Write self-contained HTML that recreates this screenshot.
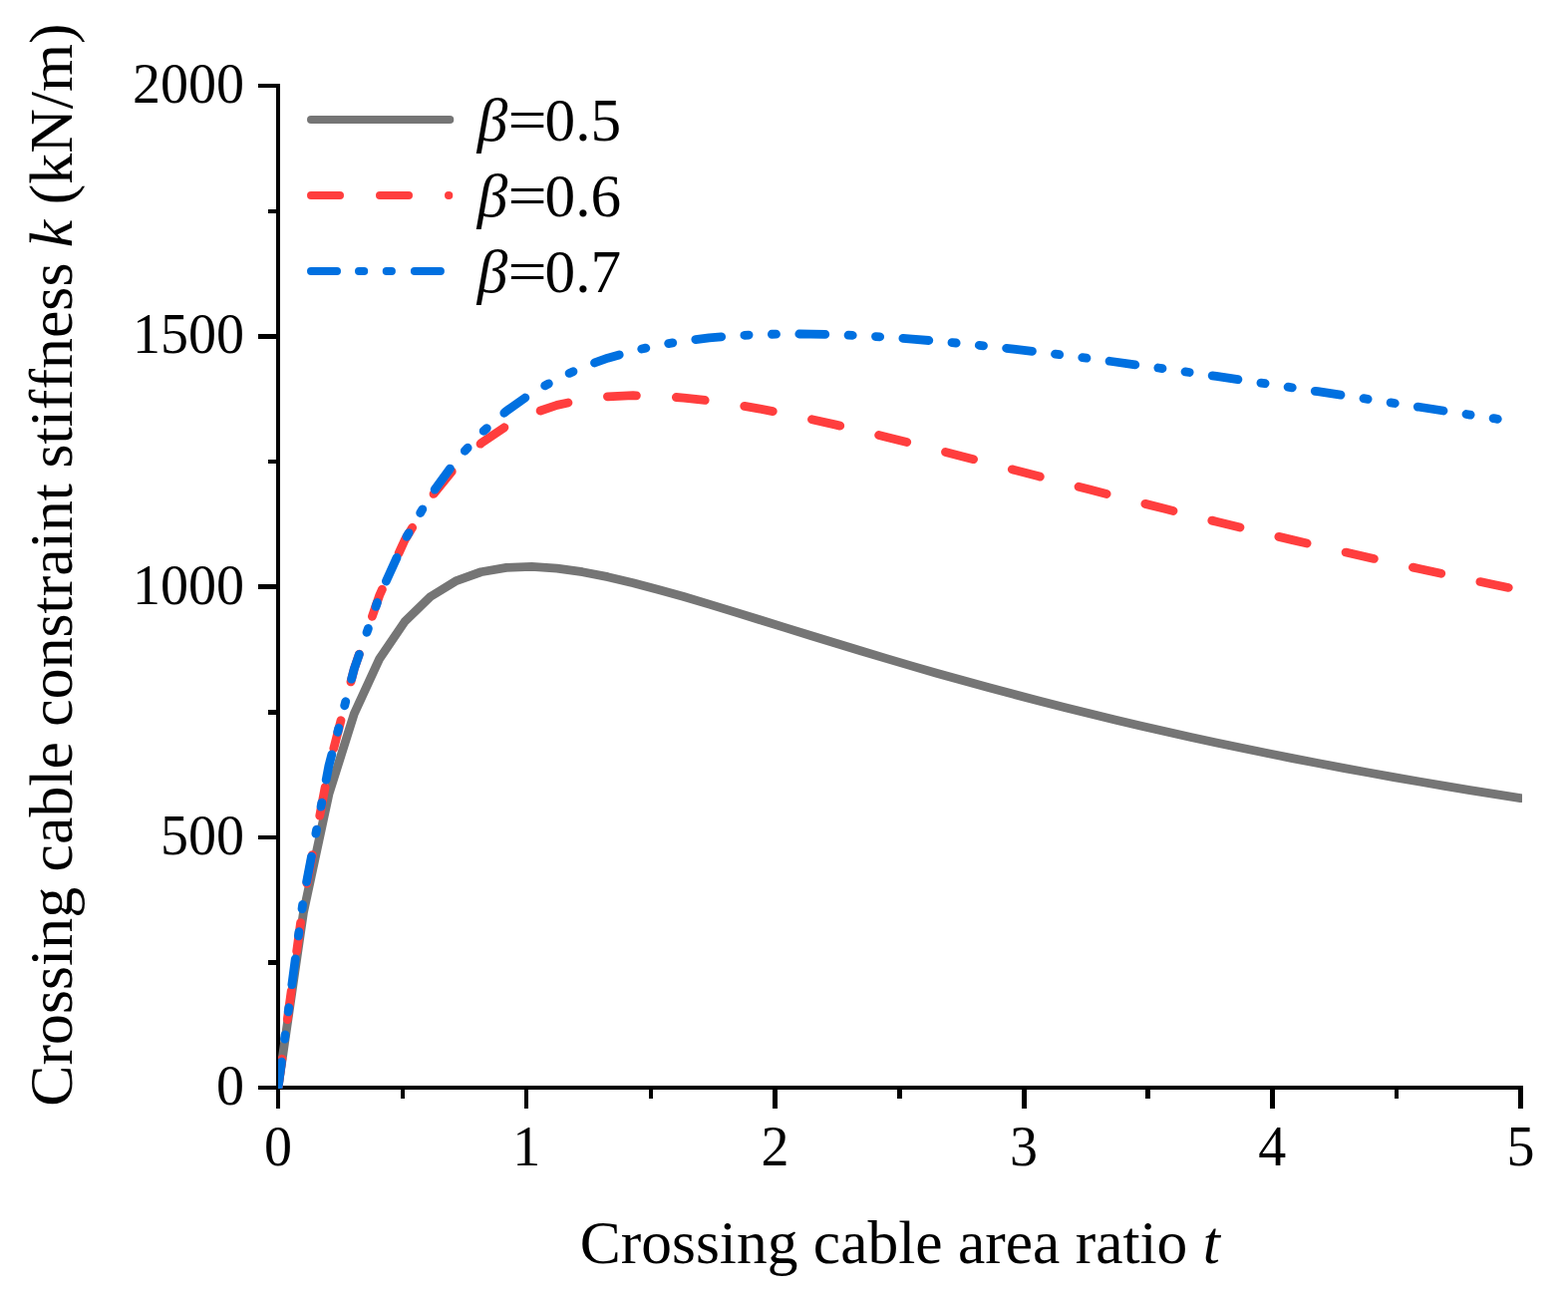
<!DOCTYPE html>
<html lang="en">
<head>
<meta charset="utf-8">
<title>Crossing cable constraint stiffness</title>
<style>
html,body{margin:0;padding:0;background:#fff;}
body{width:1573px;height:1301px;overflow:hidden;}
svg{display:block;}
text{font-family:"Liberation Serif","Times New Roman",Times,serif;fill:#000;font-variant-ligatures:none;font-kerning:none;}
.tick{font-size:56px;}
.title{font-size:61.8px;}
.leg{font-size:61.3px;}
.it{font-style:italic;}
</style>
</head>
<body>
<svg width="1573" height="1301" viewBox="0 0 1573 1301">
<rect x="0" y="0" width="1573" height="1301" fill="#ffffff"/>
<defs><clipPath id="plot"><rect x="279" y="60" width="1248" height="1032"/></clipPath></defs>

<g fill="#000" shape-rendering="crispEdges">
<rect x="277" y="84" width="4" height="1028"/>
<rect x="259" y="1089" width="1269" height="4"/>
<rect x="259" y="84" width="20" height="4"/>
<rect x="269" y="210" width="10" height="4"/>
<rect x="259" y="335" width="20" height="5"/>
<rect x="269" y="461" width="10" height="4"/>
<rect x="259" y="586" width="20" height="5"/>
<rect x="269" y="712" width="10" height="5"/>
<rect x="259" y="838" width="20" height="4"/>
<rect x="269" y="963" width="10" height="5"/>
<rect x="402" y="1091" width="4" height="11"/>
<rect x="526" y="1091" width="4" height="21"/>
<rect x="651" y="1091" width="4" height="11"/>
<rect x="775" y="1091" width="5" height="21"/>
<rect x="900" y="1091" width="5" height="11"/>
<rect x="1025" y="1091" width="5" height="21"/>
<rect x="1149" y="1091" width="5" height="11"/>
<rect x="1274" y="1091" width="5" height="21"/>
<rect x="1399" y="1091" width="4" height="11"/>
<rect x="1523" y="1091" width="5" height="21"/>
</g>
<g clip-path="url(#plot)" fill="none" stroke-width="8.8" stroke-linejoin="round" stroke-linecap="round">
<polyline stroke="#757575" points="279.00,1091.00 304.44,915.37 329.88,796.75 355.32,715.89 380.76,660.71 406.19,623.37 431.63,598.63 457.07,582.92 482.51,573.74 507.95,569.35 533.39,568.45 558.83,570.14 584.27,573.72 609.70,578.69 635.14,584.67 660.58,591.38 686.02,598.58 711.46,606.12 736.90,613.87 762.34,621.73 787.78,629.63 813.21,637.50 838.65,645.32 864.09,653.04 889.53,660.64 914.97,668.10 940.41,675.41 965.85,682.56 991.29,689.55 1016.72,696.37 1042.16,703.02 1067.60,709.50 1093.04,715.81 1118.48,721.95 1143.92,727.93 1169.36,733.75 1194.80,739.42 1220.23,744.93 1245.67,750.29 1271.11,755.51 1296.55,760.59 1321.99,765.53 1347.43,770.34 1372.87,775.02 1398.31,779.58 1423.74,784.02 1449.18,788.35 1474.62,792.56 1500.06,796.67 1525.50,800.67"/>
<polyline stroke="#ff3e3e" stroke-dasharray="29 40" stroke-dashoffset="0" points="279.00,1091.00 304.44,904.51 329.88,769.88 355.32,670.81 380.76,596.96 406.19,541.48 431.63,499.67 457.07,468.21 482.51,444.71 507.95,427.40 533.39,414.96 558.83,406.37 584.27,400.84 609.70,397.79 635.14,396.71 660.58,397.24 686.02,399.06 711.46,401.93 736.90,405.66 762.34,410.06 787.78,415.02 813.21,420.42 838.65,426.16 864.09,432.19 889.53,438.42 914.97,444.81 940.41,451.31 965.85,457.89 991.29,464.52 1016.72,471.17 1042.16,477.82 1067.60,484.46 1093.04,491.06 1118.48,497.62 1143.92,504.12 1169.36,510.56 1194.80,516.93 1220.23,523.22 1245.67,529.44 1271.11,535.57 1296.55,541.62 1321.99,547.57 1347.43,553.44 1372.87,559.22 1398.31,564.90 1423.74,570.49 1449.18,576.00 1474.62,581.41 1500.06,586.73 1525.50,591.96"/>
<polyline stroke="#0070e0" stroke-dasharray="26 23.27 4.2 23.27 4.2 23.27" stroke-dashoffset="0" points="279.00,1091.00 304.44,901.19 329.88,768.11 355.32,670.86 380.76,597.67 406.19,541.35 431.63,497.32 457.07,462.48 482.51,434.68 507.95,412.37 533.39,394.42 558.83,379.99 584.27,368.41 609.70,359.19 635.14,351.92 660.58,346.27 686.02,342.00 711.46,338.90 736.90,336.78 762.34,335.51 787.78,334.96 813.21,335.04 838.65,335.66 864.09,336.75 889.53,338.23 914.97,340.08 940.41,342.22 965.85,344.63 991.29,347.27 1016.72,350.11 1042.16,353.13 1067.60,356.29 1093.04,359.58 1118.48,362.99 1143.92,366.49 1169.36,370.08 1194.80,373.73 1220.23,377.44 1245.67,381.20 1271.11,385.00 1296.55,388.84 1321.99,392.70 1347.43,396.57 1372.87,400.46 1398.31,404.36 1423.74,408.26 1449.18,412.17 1474.62,416.07 1500.06,419.96 1522.53,423.39"/>
</g>
<g class="tick">
<text x="245" y="1108.00" text-anchor="end">0</text>
<text x="245" y="856.75" text-anchor="end">500</text>
<text x="245" y="605.50" text-anchor="end">1000</text>
<text x="245" y="354.25" text-anchor="end">1500</text>
<text x="245" y="103.00" text-anchor="end">2000</text>
<text x="279.00" y="1169" text-anchor="middle">0</text>
<text x="528.30" y="1169" text-anchor="middle">1</text>
<text x="777.60" y="1169" text-anchor="middle">2</text>
<text x="1026.90" y="1169" text-anchor="middle">3</text>
<text x="1276.20" y="1169" text-anchor="middle">4</text>
<text x="1525.50" y="1169" text-anchor="middle">5</text>
</g>
<text class="title" style="font-size:61.5px" x="902.8" y="1267" text-anchor="middle">Crossing cable area ratio <tspan class="it">t</tspan></text>
<text class="title" transform="translate(72.3 566.5) rotate(-90)" text-anchor="middle">Crossing cable constraint stiffness <tspan class="it">k</tspan> (kN/m)</text>
<g fill="none" stroke-width="8" stroke-linecap="round">
<line x1="312" y1="120" x2="451.3" y2="120" stroke="#757575"/>
<line x1="312" y1="196" x2="450.3" y2="196" stroke="#ff3e3e" stroke-dasharray="29 40"/>
<line x1="312" y1="272" x2="450.3" y2="272" stroke="#0070e0" stroke-dasharray="26 22 5.2 22.5 5.2 23"/>
</g>
<g class="leg">
<text y="140.6"><tspan x="478.8" class="it">β</tspan><tspan x="509.6" textLength="39.2" lengthAdjust="spacingAndGlyphs">=</tspan><tspan x="546.6">0.5</tspan></text>
<text y="216.6"><tspan x="478.8" class="it">β</tspan><tspan x="509.6" textLength="39.2" lengthAdjust="spacingAndGlyphs">=</tspan><tspan x="546.6">0.6</tspan></text>
<text y="292.6"><tspan x="478.8" class="it">β</tspan><tspan x="509.6" textLength="39.2" lengthAdjust="spacingAndGlyphs">=</tspan><tspan x="546.6">0.7</tspan></text>
</g>
</svg>
</body>
</html>
